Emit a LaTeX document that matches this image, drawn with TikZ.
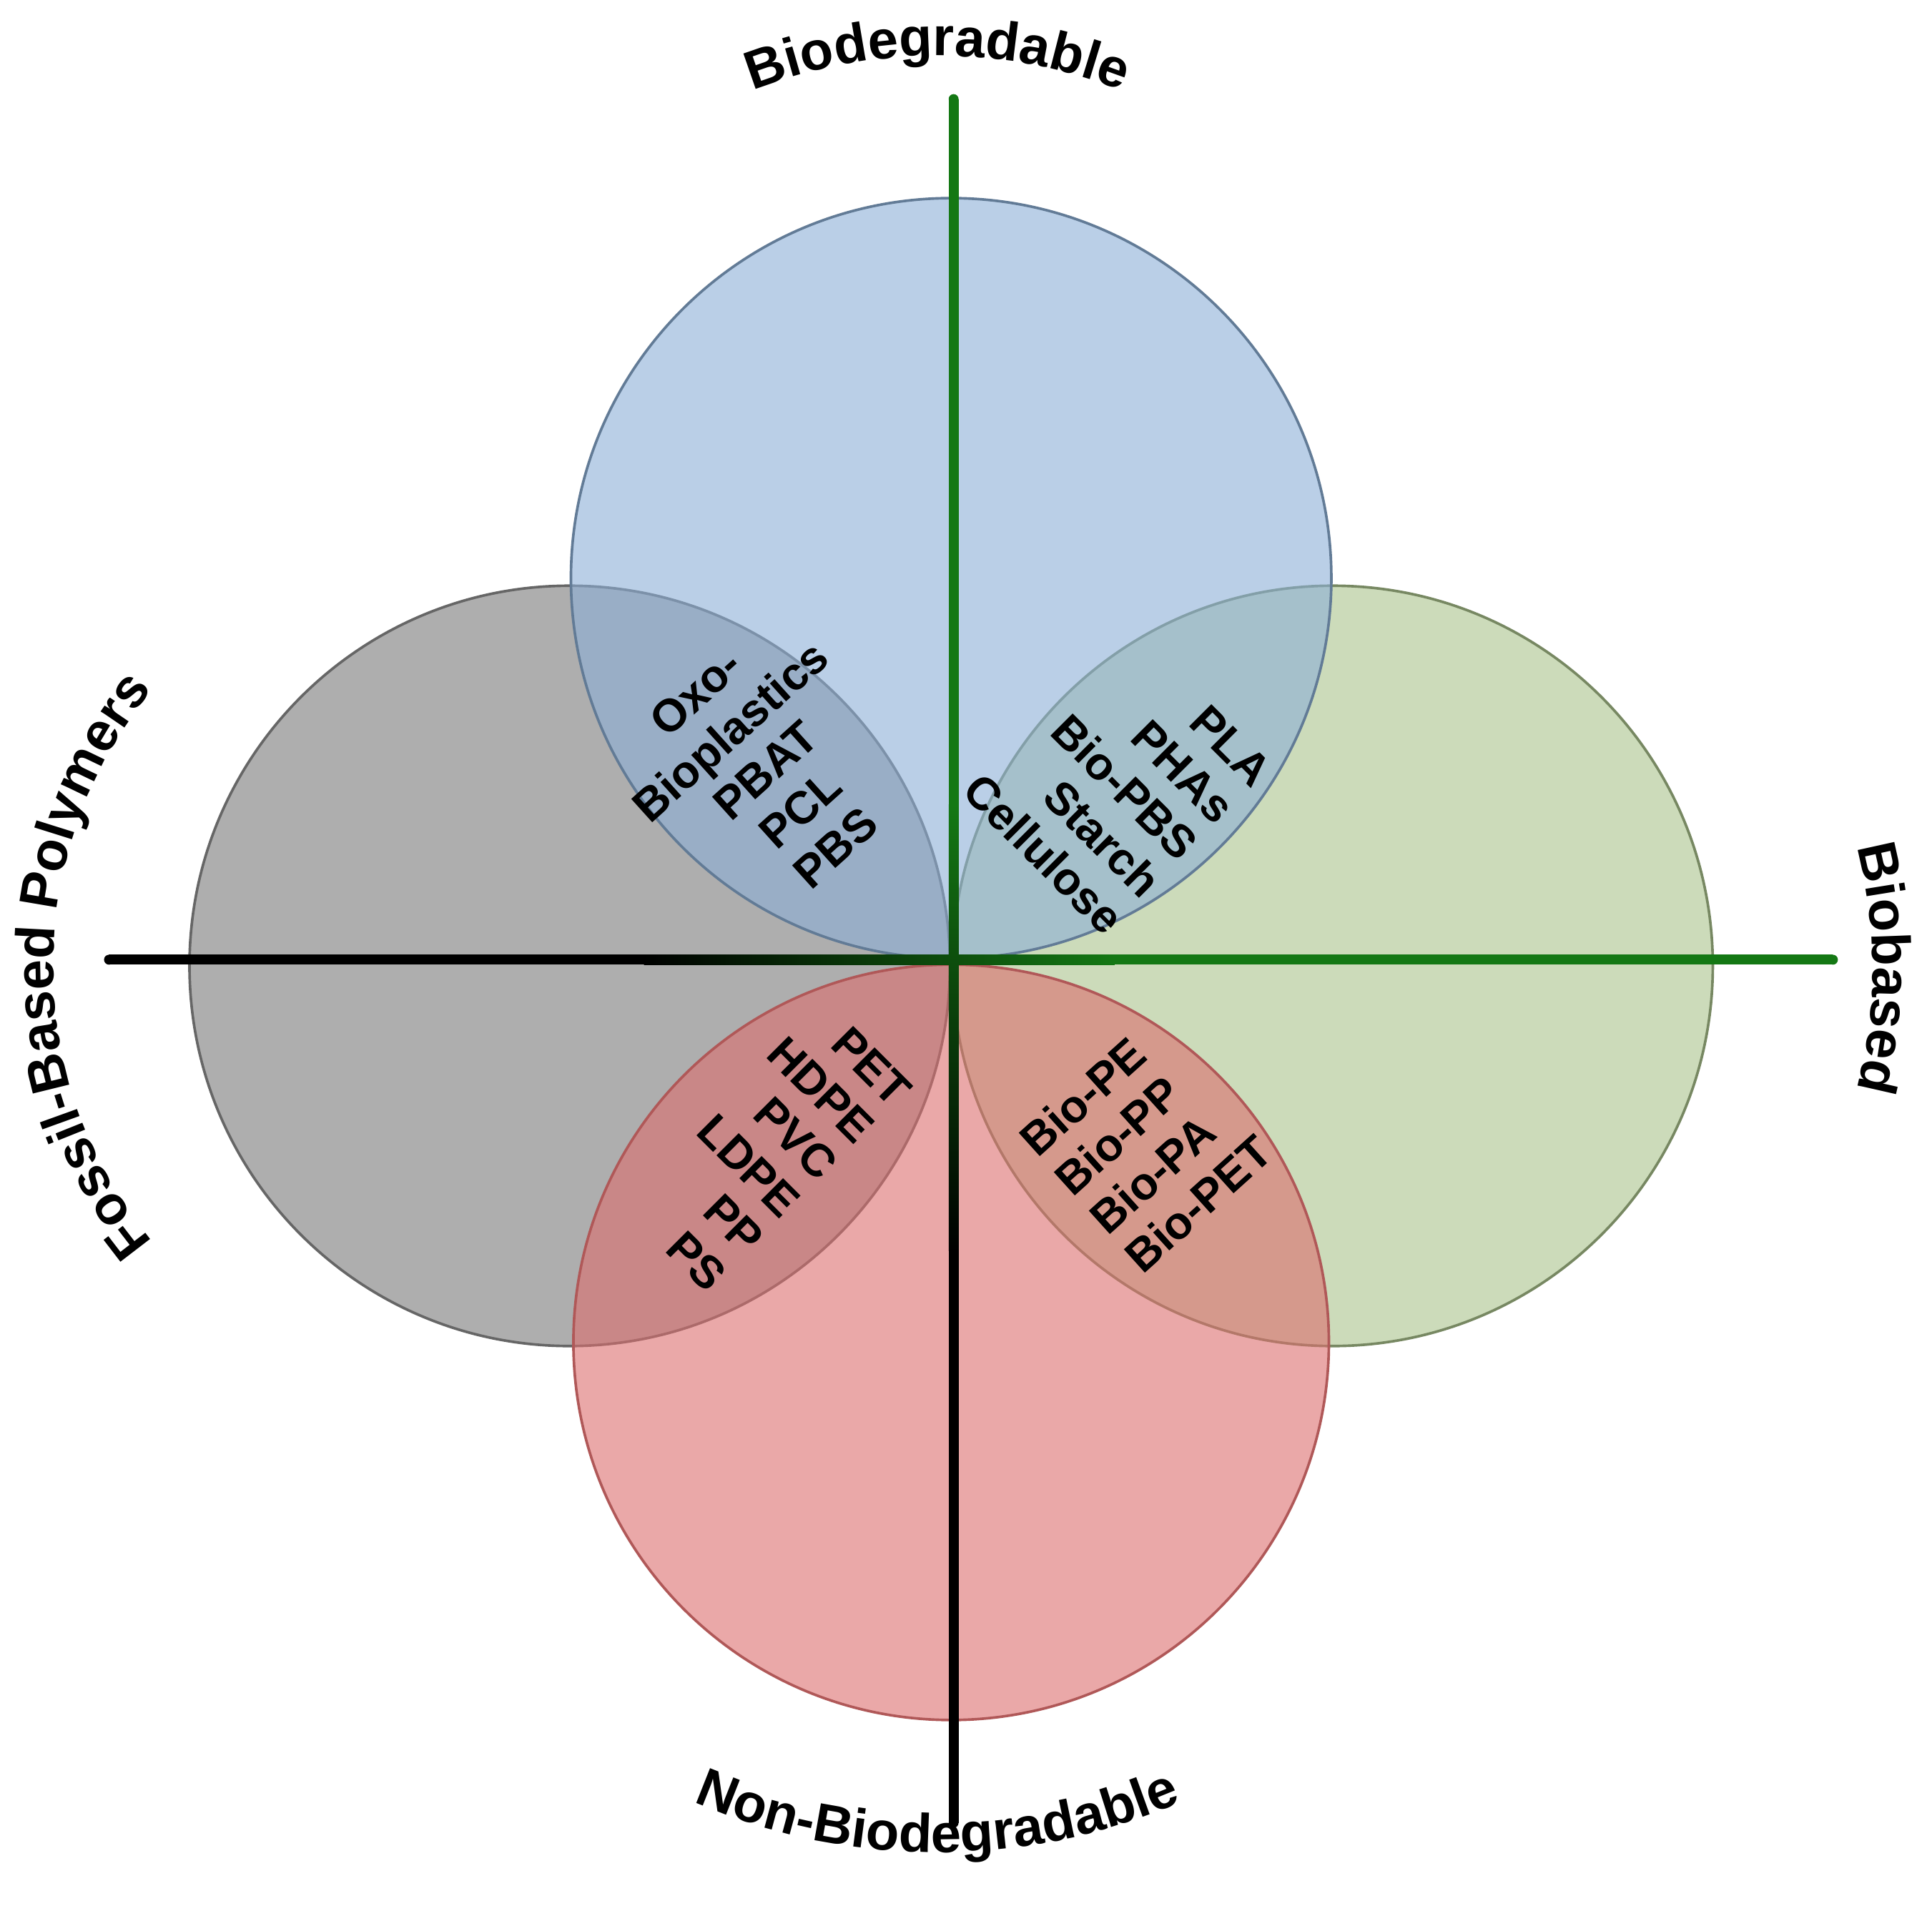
\documentclass[tikz,border=0pt]{standalone}
\usepackage{fontspec}
\setmainfont{Liberation Sans}
\usetikzlibrary{decorations.text}
\begin{document}
\begin{tikzpicture}[x=0.01cm,y=0.01cm,
  lbl/.style={font=\bfseries\fontsize{10.5}{12}\selectfont, align=center, inner sep=1pt},
  arctext/.style={decorate, decoration={text along path, text align=center,
     text={|\bfseries\fontsize{12.5}{14}\selectfont|#1}}},
  circ/.style={fill opacity=0.6, line width=0.6pt}]
\useasboundingbox (0,-1539) rectangle (1560,0);
\definecolor{cblue}{RGB}{140,175,215}
\definecolor{cgrey}{RGB}{120,120,120}
\definecolor{cgreen}{RGB}{170,195,140}
\definecolor{cred}{RGB}{220,110,110}
\definecolor{axg}{RGB}{20,120,20}
% circles
\filldraw[circ, fill=cgrey, draw=black!60] (460,-780) circle (307);
\filldraw[circ, fill=cgreen, draw=cgreen!70!black] (1076,-780) circle (307);
\filldraw[circ, fill=cred, draw=cred!80!black] (768,-1084) circle (305);
\filldraw[circ, fill=cblue, draw=cblue!70!black] (768,-467) circle (307);
% axes
\fill[black] (88,-779) rectangle (521,-771);
\shade[left color=black, right color=axg] (520,-779) rectangle (900,-771);
\fill[axg] (899,-779) rectangle (1480,-771);
\fill[axg] (766,-80) rectangle (774,-651);
\shade[top color=axg, bottom color=black] (766,-650) rectangle (774,-1010);
\fill[black] (766,-1009) rectangle (774,-1472);
\fill[black] (88,-775) circle (4) (770,-1472) circle (4);
\fill[axg] (1480,-775) circle (4) (770,-80) circle (4);
% axis labels (curved)
\coordinate (ctop) at (757,-455);
\coordinate (cbot) at (757,-1000);
\coordinate (cleft) at (392,-780);
\coordinate (cright) at (1130,-782);
\path[arctext={Biodegradable}] (ctop) ++(112:410) arc[start angle=112, end angle=68, radius=410];
\path[arctext={Non-Biodegradable}] (cbot) ++(246:496) arc[start angle=246, end angle=294, radius=496];
\path[arctext={Fossil-Based Polymers}] (cleft) ++(220:349) arc[start angle=220, end angle=140, radius=349];
\path[arctext={Biobased}] (cright) ++(18:382) arc[start angle=18, end angle=-18, radius=382];
% lens texts
\node[lbl, rotate=42] (ul) at (618,-622) {Oxo-\\Bioplastics\\PBAT\\PCL\\PBS};
\node[lbl, rotate=-45, align=right] (ur) at (902,-630) {PLA\\PHAs\\Bio-PBS\\Starch\\Cellulose};
\node[lbl, rotate=-45, align=right] (ll) at (618,-925) {PET\\HDPE\\PVC\\LDPE\\PP\\PS};
\node[lbl, rotate=42, align=left] (lr) at (925,-925) {Bio-PE\\Bio-PP\\Bio-PA\\Bio-PET};
\end{tikzpicture}
\end{document}
